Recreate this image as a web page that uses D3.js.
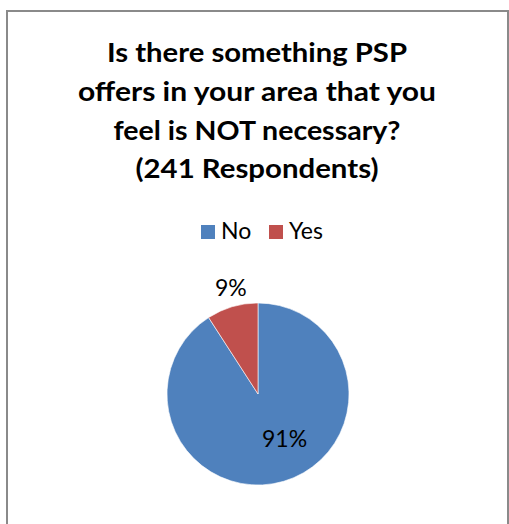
<!DOCTYPE html>
<html>
<head>
<meta charset="utf-8">
<script src="https://cdn.jsdelivr.net/npm/d3@7"></script>
<style>
  html, body { margin: 0; padding: 0; background: #fff; }
  svg { display: block; }
</style>
</head>
<body>
<script>
// ---- data ----
const categories = ["No", "Yes"];
const counts = [219, 22];
const pctLabels = ["91%", "9%"];
const colors = ["#4F81BD", "#C0504D"];
const titleLines = [
  "Is there something PSP",
  "offers in your area that you",
  "feel is NOT necessary?",
  "(241 Respondents)"
];

// ---- layout ----
const W = 509, H = 524;
const svg = d3.select("body").append("svg").attr("width", W).attr("height", H);

svg.append("rect")
  .attr("x", 7).attr("y", 11)
  .attr("width", 501).attr("height", 530)
  .attr("fill", "#fff")
  .attr("stroke", "#8a8a8a")
  .attr("stroke-width", 2);

// title
const titleWidths = [300, 358, 287, 243];
const titleBase = 62, titleStep = 38.8, cx0 = 257;
svg.append("g").selectAll("text")
  .data(titleLines)
  .join("text")
  .attr("x", cx0)
  .attr("y", (d, i) => titleBase + i * titleStep)
  .attr("text-anchor", "middle")
  .attr("font-family", "Lato, 'Open Sans', sans-serif")
  .attr("font-weight", "bold")
  .attr("font-size", 27)
  .attr("fill", "#000")
  .attr("textLength", (d, i) => titleWidths[i])
  .attr("lengthAdjust", "spacingAndGlyphs")
  .text(d => d);

// legend
const legendX = d3.scalePoint().domain(categories).range([201, 269]);
const lg = svg.append("g").selectAll("g")
  .data(categories)
  .join("g")
  .attr("transform", d => `translate(${legendX(d)},225)`);
lg.append("rect")
  .attr("width", 14).attr("height", 14)
  .attr("fill", (d, i) => colors[i]);
lg.append("text")
  .attr("x", 20).attr("y", 14)
  .attr("font-family", "Lato, 'Open Sans', sans-serif")
  .attr("font-size", 23)
  .attr("fill", "#000")
  .text(d => d);

// pie
const cx = 258, cy = 394, R = 91;
const pie = d3.pie().sort(null).value(d => d)
  .startAngle(0).endAngle(2 * Math.PI);
const arcs = pie(counts);
const arc = d3.arc().innerRadius(0).outerRadius(R);
const g = svg.append("g").attr("transform", `translate(${cx},${cy})`);
g.selectAll("path")
  .data(arcs)
  .join("path")
  .attr("d", arc)
  .attr("fill", (d, i) => colors[i])
  .attr("stroke", "#fff")
  .attr("stroke-width", 0.6);

// data labels: inside for the big slice, outside for the small one
const labelRadius = [55, 110];
const labelShift = [[11, -8], [4, -1]];
g.selectAll("text.lbl")
  .data(arcs)
  .join("text")
  .attr("class", "lbl")
  .attr("transform", (d, i) => {
    const c = d3.arc().innerRadius(labelRadius[i]).outerRadius(labelRadius[i]).centroid(d);
    return `translate(${c[0] + labelShift[i][0]},${c[1] + labelShift[i][1]})`;
  })
  .attr("text-anchor", "middle")
  .attr("dy", "0.35em")
  .attr("font-family", "Lato, 'Open Sans', sans-serif")
  .attr("font-size", 23)
  .attr("fill", "#000")
  .text((d, i) => pctLabels[i]);
</script>
</body>
</html>
